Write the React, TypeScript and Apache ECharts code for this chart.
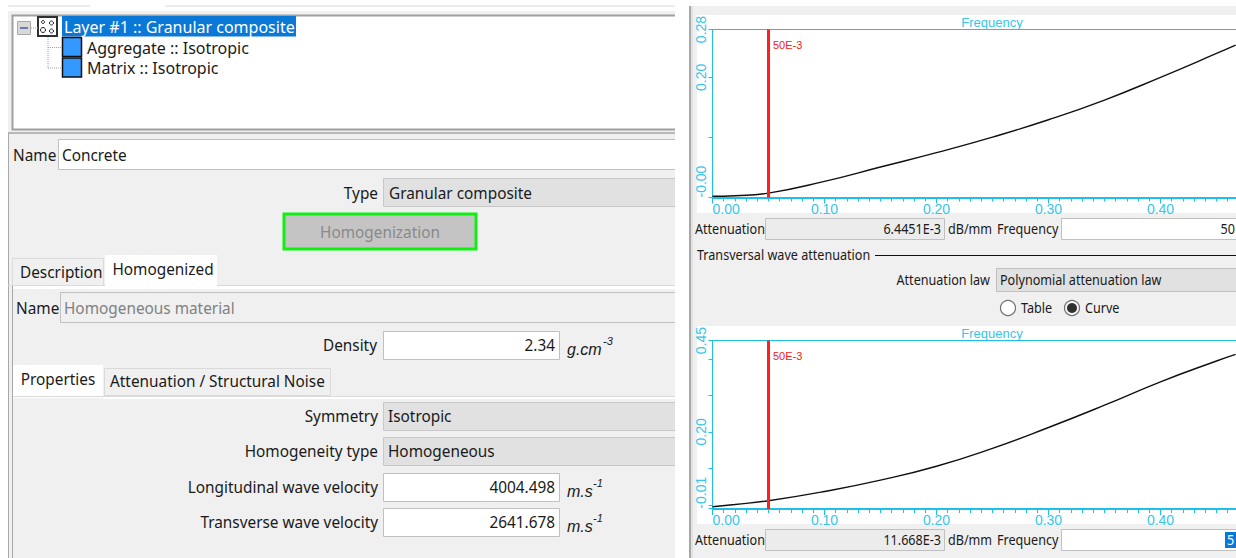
import React, { useEffect, useRef } from "react";
import * as echarts from "echarts";

const frequency = [0, 0.02, 0.05, 0.1, 0.15, 0.2, 0.25, 0.3, 0.35, 0.4, 0.45, 0.467];
const longitudinal = [0.001, 0.002, 0.0064, 0.026, 0.05, 0.074, 0.1, 0.129, 0.162, 0.2, 0.24, 0.254];
const freq2 = [0, 0.02, 0.05, 0.1, 0.15, 0.2, 0.25, 0.3, 0.35, 0.4, 0.45, 0.467];
const transversal = [-0.005, 0.0015, 0.0117, 0.037, 0.068, 0.106, 0.155, 0.212, 0.273, 0.337, 0.394, 0.412];
const y1Ticks = [-0.001, 0.1, 0.2, 0.28];
const y1Labels = [-0.001, 0.2, 0.28];
const y2Ticks = [-0.01, 0, 0.1, 0.2, 0.3, 0.4, 0.45];
const y2Labels = [-0.01, 0.2, 0.45];
const cursor = 0.05;

const CYAN = "#35c6ea";
const CYAN_LINE = "#1cc0e8";
const FONT = "'Noto Sans', sans-serif";
const TXT = "#1a1a1a";

const rect = (x: number, y: number, w: number, h: number, fill: string, stroke?: string, lineWidth = 1) => ({
  type: "rect", z: -1, silent: true,
  shape: { x, y, width: w, height: h },
  style: { fill, stroke: stroke || "none", lineWidth },
});
const text = (s: string, x: number, y: number, o: any = {}) => ({
  type: "text", z: -1, silent: true,
  x, y, scaleX: o.sx || 1,
  style: {
    text: s, x: 0, y: 0, fill: o.fill || TXT, fontSize: o.size || 16, fontFamily: o.family || FONT,
    fontStyle: o.italic ? "italic" : "normal", align: o.align || "left", verticalAlign: "middle",
  },
});
// left-hand form: slightly condensed 16px
const lt = (s: string, x: number, y: number, o: any = {}) => text(s, x, y, { sx: 0.96, ...o });
// right-hand form: condensed 14px
const rt = (s: string, x: number, y: number, o: any = {}) => text(s, x, y, { size: 14, sx: 0.9, ...o });
const line = (x1: number, y1: number, x2: number, y2: number, stroke: string, lineWidth = 1, dash?: number[]) => ({
  type: "line", z: -1, silent: true,
  shape: { x1, y1, x2, y2 },
  style: { stroke, lineWidth, lineDash: dash },
});
const circle = (cx: number, cy: number, r: number, fill: string, stroke = "none", lineWidth = 1) => ({
  type: "circle", z: -1, silent: true,
  shape: { cx, cy, r },
  style: { fill, stroke, lineWidth },
});

const unit = (u: string, sup: string, x: number, y: number) => [
  text(u, x, y + 4, { italic: true, size: 16, family: "'Liberation Sans'" }),
  text(sup, x + (u.length > 3 ? 36 : 26), y - 4, { italic: true, size: 11, family: "'Liberation Sans'" }),
];

const panel = (): any[] => [
  rect(0, 0, 1236, 558, "#ffffff"),
  line(8, 6, 90, 6, "#d8d8d8"),
  line(165, 6, 675, 6, "#d8d8d8"),
  rect(8, 11, 668, 547, "#f0f0f0"),
  rect(690, 6, 546, 552, "#f0f0f0"),
  // tree
  rect(12.5, 15.5, 670, 114, "#ffffff", "#a0a0a0", 2),
  rect(17.5, 21.5, 13, 13, "#d8d8d8", "#a8a8a8"),
  line(20, 28, 28, 28, "#6a7ab0", 2),
  rect(38, 17, 19, 19, "#ffffff", "#303030", 2),
  circle(43, 22, 1.5, "#fff", "#222"), circle(51.5, 23, 2, "#fff", "#222"),
  circle(43, 30, 2.5, "#fff", "#222"), circle(51.5, 31, 2, "#fff", "#222"),
  line(31, 28, 38, 28, "#a0a0a0", 1, [1, 1]),
  line(48, 37, 48, 68, "#a0a0a0", 1, [1, 1]),
  line(48, 47.5, 62, 47.5, "#a0a0a0", 1, [1, 1]),
  line(48, 68, 62, 68, "#a0a0a0", 1, [1, 1]),
  rect(62, 16, 234, 20.5, "#0a78d7"),
  rect(62.5, 37.5, 19, 19, "#3399ff", "#101010", 1.5),
  rect(62.5, 58, 19, 19, "#3399ff", "#101010", 1.5),
  text("Layer #1 :: Granular composite", 64, 27, { fill: "#ffffff" }),
  text("Aggregate :: Isotropic", 87, 48),
  text("Matrix :: Isotropic", 87, 68),
  // composite form
  line(8, 133, 680, 133, "#b8b8b8", 2),
  line(8.5, 133, 8.5, 558, "#a8a8a8"),
  lt("Name", 13, 155),
  rect(58.5, 139.5, 625, 30, "#ffffff", "#c0c0c0"),
  lt("Concrete", 62, 155),
  lt("Type", 378, 193, { align: "right" }),
  rect(383.5, 178.5, 300, 28, "#e1e1e1", "#c8c8c8"),
  lt("Granular composite", 389, 193),
  rect(284, 214, 192, 35, "#c4c4c4", "#10f010", 3),
  lt("Homogenization", 380, 232, { fill: "#8a8a8a", align: "center" }),
  rect(12.5, 258.5, 91, 27, "#f0f0f0", "#dadada"),
  lt("Description", 20, 272),
  line(8, 285.5, 680, 285.5, "#dadada"),
  rect(105, 255, 112, 33, "#ffffff"),
  rect(13, 286, 670, 3, "#ffffff"),
  lt("Homogenized", 163, 269, { align: "center" }),
  line(12.5, 286, 12.5, 558, "#a8a8a8"),
  lt("Name", 16, 308),
  rect(60.5, 292.5, 623, 30, "#f0f0f0", "#c0c0c0"),
  lt("Homogeneous material", 64, 308, { fill: "#808080" }),
  lt("Density", 377, 345, { align: "right" }),
  rect(383.5, 331.5, 176, 28, "#ffffff", "#c0c0c0"),
  lt("2.34", 555, 345, { align: "right" }),
  ...unit("g.cm", "-3", 567, 345),
  rect(13, 365, 90, 33, "#ffffff"),
  rect(104.5, 368.5, 226, 27, "#f0f0f0", "#dadada"),
  line(13, 396.5, 680, 396.5, "#dadada"),
  rect(103, 397, 580, 2, "#ffffff"),
  lt("Properties", 58, 379, { align: "center" }),
  lt("Attenuation / Structural Noise", 110, 381),
  lt("Symmetry", 378, 416, { align: "right" }),
  rect(383.5, 402.5, 300, 28, "#e1e1e1", "#c8c8c8"),
  lt("Isotropic", 388, 416),
  lt("Homogeneity type", 378, 451, { align: "right" }),
  rect(383.5, 437.5, 300, 28, "#e1e1e1", "#c8c8c8"),
  lt("Homogeneous", 388, 451),
  lt("Longitudinal wave velocity", 378, 487, { align: "right" }),
  rect(383.5, 473.5, 176, 28, "#ffffff", "#c0c0c0"),
  lt("4004.498", 555, 487, { align: "right" }),
  ...unit("m.s", "-1", 567, 487),
  lt("Transverse wave velocity", 378, 522, { align: "right" }),
  rect(383.5, 508.5, 176, 28, "#ffffff", "#c0c0c0"),
  lt("2641.678", 555, 522, { align: "right" }),
  ...unit("m.s", "-1", 567, 522),
  // gutter between the two windows
  rect(675, 0, 14, 558, "#ffffff"),
  line(690, 6, 690, 558, "#a8a8a8", 2),
  line(692, 6, 692, 558, "#d4d4d4", 1),
  // right side
  rect(697, 15, 539, 198, "#ffffff"),
  rect(697, 326, 539, 198, "#ffffff"),
  rt("Attenuation", 695, 229),
  rect(765.5, 218.5, 179, 21, "#ececec", "#c0c0c0"),
  rt("6.4451E-3", 941, 229, { align: "right" }),
  rt("dB/mm", 948, 229),
  rt("Frequency", 997, 229),
  rect(1061.5, 218.5, 180, 21, "#ffffff", "#c0c0c0"),
  rt("50", 1235, 229, { align: "right" }),
  rt("Transversal wave attenuation", 697, 255),
  line(875, 255.5, 1236, 255.5, "#101010"),
  rt("Attenuation law", 990, 280, { align: "right" }),
  rect(996.5, 268.5, 245, 23, "#e1e1e1", "#c0c0c0"),
  rt("Polynomial attenuation law", 1000, 280),
  circle(1008, 308, 7.5, "#ffffff", "#707070", 1.2),
  rt("Table", 1021, 308),
  circle(1072, 308, 7.5, "#f8f8f8", "#707070", 1.2),
  circle(1072, 308, 5, "#303030"),
  rt("Curve", 1085, 308),
  rt("Attenuation", 695, 540),
  rect(765.5, 529.5, 179, 21, "#ececec", "#c0c0c0"),
  rt("11.668E-3", 941, 540, { align: "right" }),
  rt("dB/mm", 948, 540),
  rt("Frequency", 997, 540),
  rect(1061.5, 529.5, 180, 21, "#ffffff", "#c0c0c0"),
  rect(1225, 532, 11, 16, "#0a78d7"),
  rt("5", 1227, 540, { fill: "#ffffff" }),
  text("Frequency", 992, 22, { fill: CYAN, size: 13, align: "center", family: "'Liberation Sans'" }),
  text("Frequency", 992, 333, { fill: CYAN, size: 13, align: "center", family: "'Liberation Sans'" }),
  text("50E-3", 773, 45, { fill: "#f02020", size: 11, family: "'Liberation Sans'" }),
  text("50E-3", 773, 356, { fill: "#f02020", size: 11, family: "'Liberation Sans'" }),
];

const xAxis = (gridIndex: number) => ({
  type: "value", gridIndex, min: 0, max: 0.5, interval: 0.1, splitLine: { show: false },
  axisLine: { show: true, onZero: false, lineStyle: { color: CYAN_LINE, width: 2 } },
  axisTick: { show: true, length: 6, lineStyle: { color: CYAN_LINE, width: 1 } },
  minorTick: { show: true, splitNumber: 10, length: 4, lineStyle: { color: CYAN_LINE, width: 1 } },
  minorSplitLine: { show: false },
  axisLabel: {
    show: true, color: CYAN, fontSize: 14, margin: 4, fontFamily: "'Liberation Sans'",
    alignMinLabel: "left", showMaxLabel: false, formatter: (v: number) => v.toFixed(2),
  },
});
const topAxis = (gridIndex: number) => ({
  type: "value", gridIndex, position: "top", min: 0, max: 0.5, show: true, splitLine: { show: false },
  axisLine: { show: true, onZero: false, lineStyle: { color: CYAN_LINE, width: 1 } },
  axisTick: { show: false }, axisLabel: { show: false },
});
const yAxis = (gridIndex: number, min: number, max: number, ticks: number[], labels: number[]) => ({
  type: "value", gridIndex, min, max, splitLine: { show: false },
  axisLine: { show: true, onZero: false, lineStyle: { color: CYAN_LINE, width: 1 } },
  axisTick: { show: true, length: 4, customValues: ticks, lineStyle: { color: CYAN_LINE } },
  axisLabel: {
    show: true, color: CYAN, fontSize: 14, rotate: 90, margin: 5, fontFamily: "'Liberation Sans'",
    customValues: labels, align: "center", alignMinLabel: "left", formatter: (v: number) => v.toFixed(2),
  },
});
const curve = (x: number[], y: number[], axisIndex: number) => ({
  type: "line", xAxisIndex: axisIndex, yAxisIndex: axisIndex, showSymbol: false, smooth: 0.5,
  data: x.map((f, i) => [f, y[i]]),
  lineStyle: { color: "#101010", width: 1.4 },
  markLine: {
    silent: true, symbol: "none", animation: false, precision: 4,
    data: [{ xAxis: cursor }], label: { show: false },
    lineStyle: { color: "#ff1f1f", width: 3, type: "solid", opacity: 1 },
  },
});

export default function App() {
  const ref = useRef<HTMLDivElement>(null);
  useEffect(() => {
    document.body.style.margin = "0";
    const chart = echarts.init(ref.current!, null, { renderer: "svg" });
    chart.setOption({
      animation: false,
      backgroundColor: "#ffffff",
      graphic: { elements: panel() },
      grid: [
        { left: 712.5, top: 29.5, width: 560, height: 168, outerBoundsMode: "none" },
        { left: 712.5, top: 340.5, width: 560, height: 168.5, outerBoundsMode: "none" },
      ],
      xAxis: [xAxis(0), xAxis(1), topAxis(0), topAxis(1)],
      yAxis: [
        yAxis(0, -0.001, 0.28, y1Ticks, y1Labels),
        yAxis(1, -0.011, 0.45, y2Ticks, y2Labels),
      ],
      series: [curve(frequency, longitudinal, 0), curve(freq2, transversal, 1)],
    });
    return () => chart.dispose();
  }, []);
  return <div ref={ref} style={{ position: "absolute", left: 0, top: 0, width: 1236, height: 558, overflow: "hidden" }} />;
}
